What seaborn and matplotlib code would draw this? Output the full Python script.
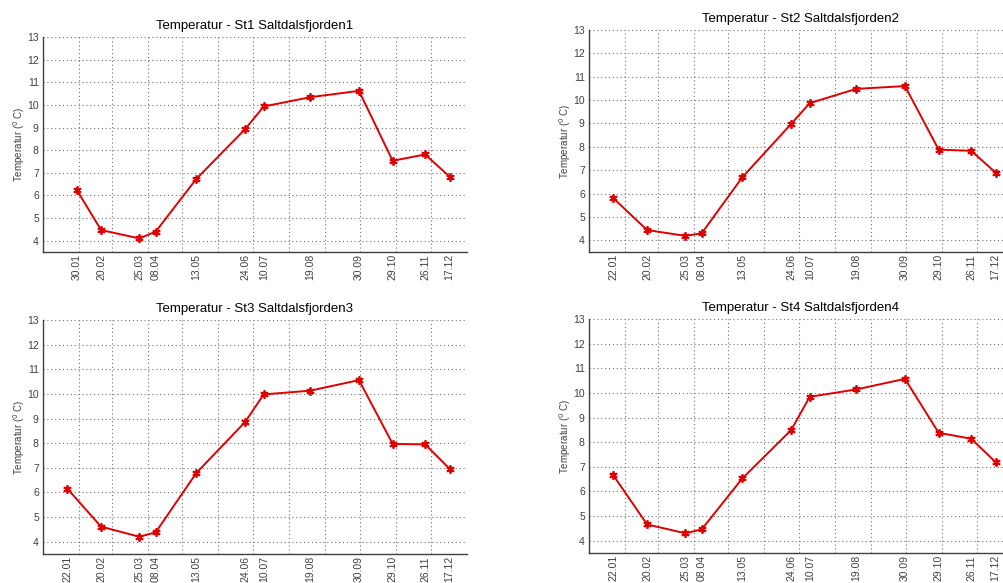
import pandas as pd
import matplotlib
matplotlib.use("Agg")
import matplotlib.pyplot as plt
import seaborn as sns

YEAR = 2010

# Sampling dates (dd.mm) and temperatures per station
datoer_st1 = ['30.01', '20.02', '25.03', '08.04', '13.05', '24.06',
              '10.07', '19.08', '30.09', '29.10', '26.11', '17.12']
datoer = ['22.01', '20.02', '25.03', '08.04', '13.05', '24.06',
          '10.07', '19.08', '30.09', '29.10', '26.11', '17.12']

temp_st1 = [6.25, 4.47, 4.10, 4.40, 6.73, 8.93, 9.93, 10.34, 10.62, 7.53, 7.81, 6.83]
temp_st2 = [5.80, 4.44, 4.19, 4.30, 6.70, 8.98, 9.87, 10.48, 10.60, 7.88, 7.83, 6.90]
temp_st3 = [6.15, 4.61, 4.20, 4.38, 6.79, 8.86, 9.98, 10.13, 10.56, 7.97, 7.95, 6.96]
temp_st4 = [6.65, 4.66, 4.30, 4.46, 6.53, 8.49, 9.84, 10.14, 10.57, 8.38, 8.14, 7.19]

stasjoner = ['St1 Saltdalsfjorden1', 'St2 Saltdalsfjorden2',
             'St3 Saltdalsfjorden3', 'St4 Saltdalsfjorden4']

W, H = 1004, 583


def pos(left, top, bottom, width=424):
    return [left / W, (H - bottom) / H, width / W, (bottom - top) / H]


panels = [
    (stasjoner[0], datoer_st1, temp_st1, pos(43, 37, 252)),
    (stasjoner[1], datoer, temp_st2, pos(589, 30, 252)),
    (stasjoner[2], datoer, temp_st3, pos(43, 320, 554)),
    (stasjoner[3], datoer, temp_st4, pos(589, 319, 553)),
]

sns.set_style("white")
plt.rcParams['font.family'] = ['Liberation Sans', 'DejaVu Sans']

fig = plt.figure(figsize=(W / 100, H / 100), dpi=100)
months = pd.date_range(f'{YEAR}-01-01', f'{YEAR + 1}-01-01', freq='MS')
dot = (0, (1, 2.5))

for navn, dd, temp, p in panels:
    df = pd.DataFrame({
        'Dato': pd.to_datetime([f'{d}.{YEAR}' for d in dd], format='%d.%m.%Y'),
        'Temp': temp,
    })
    ax = fig.add_axes(p)
    sns.lineplot(data=df, x='Dato', y='Temp', ax=ax, color='#e00000',
                 linewidth=1.4, marker=(6, 2, 0), markersize=6,
                 markeredgewidth=1.3, markeredgecolor='#e00000')

    ax.set_xlim(months[0], months[-1])
    ax.set_ylim(3.5, 13)
    ax.set_yticks(range(4, 14))
    ax.set_xticks(df['Dato'])
    ax.set_xticklabels(dd, rotation=90)
    ax.set_xticks(months, minor=True)

    ax.grid(False)
    ax.grid(which='major', axis='y', linestyle=dot, color='#707070', linewidth=0.8)
    ax.grid(which='minor', axis='x', linestyle=dot, color='#707070', linewidth=0.8)

    ax.tick_params(which='both', direction='in', length=4, width=0.8,
                   color='#404040', labelcolor='#404040', labelsize=7.5, pad=3)
    ax.tick_params(axis='x', labelsize=7.5, pad=1.5)

    for s in ['top', 'right']:
        ax.spines[s].set_visible(False)
    for s in ['left', 'bottom']:
        ax.spines[s].set_color('#404040')
        ax.spines[s].set_linewidth(1.0)

    ax.set_title(f'Temperatur - {navn}', fontsize=9.5, color='black', pad=6)
    ax.set_xlabel('')
    ax.set_ylabel('Temperatur ($^{0}$ C)', fontsize=7, color='#404040')
    ax.yaxis.set_label_coords(-0.038, 0.5)

fig.savefig('out.png', dpi=100)
